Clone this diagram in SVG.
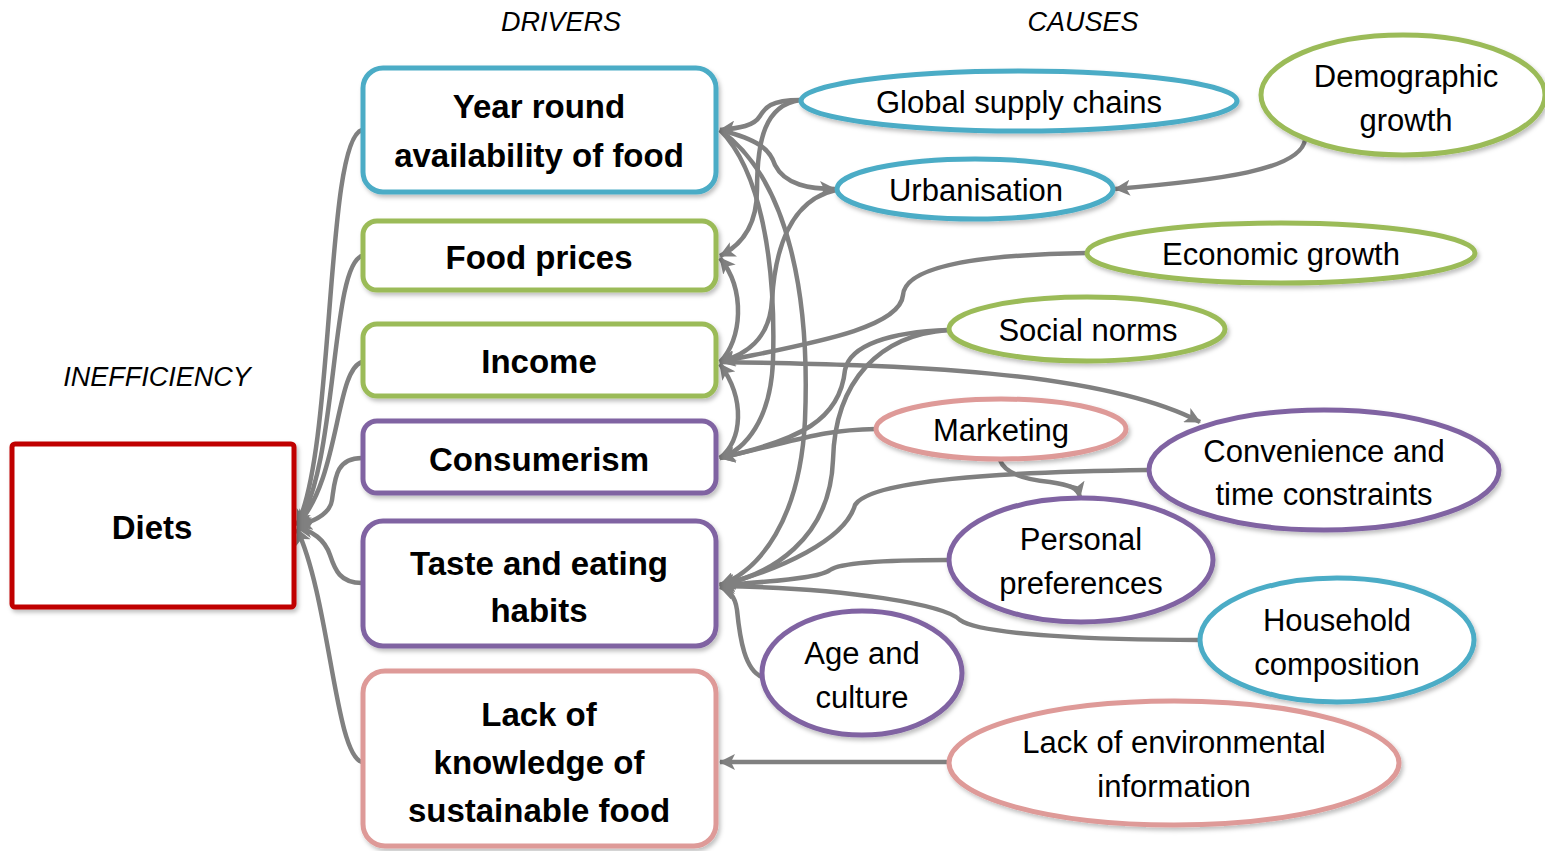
<svg xmlns="http://www.w3.org/2000/svg" width="1545" height="851" viewBox="0 0 1545 851">
<style>
.box{fill:#fff;stroke-width:5}
.ell{fill:#fff;stroke-width:5}
.blue{stroke:#4BACC6}
.green{stroke:#9BBB59}
.purple{stroke:#8064A2}
.pink{stroke:#DE9A98}
.red{stroke:#C00000}
.drv{font-family:"Liberation Sans",Arial,sans-serif;font-weight:bold;font-size:33px;fill:#000;text-anchor:middle}
.cau{font-family:"Liberation Sans",Arial,sans-serif;font-size:31px;fill:#000;text-anchor:middle}
.hdr{font-family:"Liberation Sans",Arial,sans-serif;font-style:italic;font-size:27px;fill:#000;text-anchor:middle}
.con path{fill:none;stroke:#808080;stroke-width:4.5;marker-end:url(#ah)}
</style>
<defs>
<marker id="ah" markerUnits="userSpaceOnUse" markerWidth="18" markerHeight="16" refX="15" refY="8" orient="auto">
<path d="M0,0 L16,8 L0,16 L4,8 Z" fill="#808080"/>
</marker>
<filter id="sh" x="-10%" y="-10%" width="130%" height="130%">
<feDropShadow dx="2" dy="3" stdDeviation="2" flood-color="#000" flood-opacity="0.25"/>
</filter>
</defs>
<rect width="1545" height="851" fill="#fff"/>
<text class="hdr" x="561" y="31">DRIVERS</text>
<text class="hdr" x="1083" y="31">CAUSES</text>
<text class="hdr" x="157" y="386">INEFFICIENCY</text>

<g class="con">
<path d="M362,130 C325,140 335,450 297,525"/>
<path d="M362,256 C330,265 338,470 297,525"/>
<path d="M362,362 C335,370 340,480 297,525"/>
<path d="M362,458 C335,458 335,480 332,500 C330,515 312,522 297,526"/>
<path d="M362,583 C340,583 335,570 330,555 C325,540 312,530 297,528"/>
<path d="M362,762 C335,755 330,600 297,529"/>

<path d="M800,100 C770,100 765,108 760,116 C754,126 740,128 720,130"/>
<path d="M800,100 C765,105 757,140 757,190 C757,225 742,245 720,256"/>
<path d="M720,130 C760,140 770,150 775,165 C785,185 810,189 835,189"/>
<path d="M836,190 C790,200 775,250 772,300 C770,340 745,355 720,362"/>
<path d="M720,130 C760,170 776,260 773,360 C771,420 745,450 720,458"/>
<path d="M720,130 C790,180 810,300 805,420 C800,520 760,570 720,585"/>
<path d="M720,362 C742,340 746,290 720,258"/>
<path d="M720,458 C742,440 746,400 720,364"/>
<path d="M1087,253 C960,255 905,270 903,295 C900,330 800,345 720,362"/>
<path d="M720,362 C900,365 1100,370 1200,422"/>
<path d="M948,330 C890,332 850,345 845,370 C840,420 800,440 720,458"/>
<path d="M948,330 C880,335 835,380 833,460 C830,540 770,575 720,585"/>
<path d="M876,429 C820,430 800,440 720,458"/>
<path d="M1000,460 C1005,475 1030,480 1050,482 C1070,485 1078,488 1080,497"/>
<path d="M1148,470 C1000,472 870,480 855,505 C845,540 780,570 720,585"/>
<path d="M948,560 C880,560 840,563 830,570 C820,578 770,582 720,585"/>
<path d="M1200,640 C1100,640 980,635 960,620 C945,605 850,588 720,586"/>
<path d="M762,677 C745,670 740,640 737,610 C735,595 728,590 720,587"/>
<path d="M948,762 L720,762"/>
<path d="M1305,140 C1300,170 1220,180 1115,189"/>
</g>

<g id="diets"><rect class="box red" x="12" y="444" width="282" height="163" rx="3" filter="url(#sh)"/><text class="drv" x="152" y="539">Diets</text></g>

<g id="yearround"><rect class="box blue" x="363" y="68" width="353" height="124" rx="20" filter="url(#sh)"/><text class="drv" x="539" y="118">Year round</text><text class="drv" x="539" y="167">availability of food</text></g>
<g id="foodprices"><rect class="box green" x="363" y="221" width="353" height="69" rx="14" filter="url(#sh)"/><text class="drv" x="539" y="269">Food prices</text></g>
<g id="income"><rect class="box green" x="363" y="324" width="353" height="72" rx="14" filter="url(#sh)"/><text class="drv" x="539" y="373">Income</text></g>
<g id="consumerism"><rect class="box purple" x="363" y="421" width="353" height="72" rx="14" filter="url(#sh)"/><text class="drv" x="539" y="471">Consumerism</text></g>
<g id="taste"><rect class="box purple" x="363" y="521" width="353" height="125" rx="20" filter="url(#sh)"/><text class="drv" x="539" y="575">Taste and eating</text><text class="drv" x="539" y="622">habits</text></g>
<g id="lack"><rect class="box pink" x="363" y="671" width="353" height="175" rx="22" filter="url(#sh)"/><text class="drv" x="539" y="726">Lack of</text><text class="drv" x="539" y="774">knowledge of</text><text class="drv" x="539" y="822">sustainable food</text></g>

<g id="global"><ellipse class="ell blue" cx="1019" cy="101" rx="218" ry="30" filter="url(#sh)"/><text class="cau" x="1019" y="113">Global supply chains</text></g>
<g id="demographic"><ellipse class="ell green" cx="1403" cy="95" rx="142" ry="60" filter="url(#sh)"/><text class="cau" x="1406" y="87">Demographic</text><text class="cau" x="1406" y="131">growth</text></g>
<g id="urbanisation"><ellipse class="ell blue" cx="975" cy="189" rx="138" ry="30" filter="url(#sh)"/><text class="cau" x="976" y="201">Urbanisation</text></g>
<g id="economic"><ellipse class="ell green" cx="1281" cy="253" rx="194" ry="30" filter="url(#sh)"/><text class="cau" x="1281" y="265">Economic growth</text></g>
<g id="social"><ellipse class="ell green" cx="1087" cy="329" rx="138" ry="32" filter="url(#sh)"/><text class="cau" x="1088" y="341">Social norms</text></g>
<g id="marketing"><ellipse class="ell pink" cx="1001" cy="429" rx="125" ry="30" filter="url(#sh)"/><text class="cau" x="1001" y="441">Marketing</text></g>
<g id="convenience"><ellipse class="ell purple" cx="1324" cy="470" rx="175" ry="60" filter="url(#sh)"/><text class="cau" x="1324" y="462">Convenience and</text><text class="cau" x="1324" y="505">time constraints</text></g>
<g id="personal"><ellipse class="ell purple" cx="1081" cy="560" rx="132" ry="62" filter="url(#sh)"/><text class="cau" x="1081" y="550">Personal</text><text class="cau" x="1081" y="594">preferences</text></g>
<g id="household"><ellipse class="ell blue" cx="1337" cy="640" rx="137" ry="62" filter="url(#sh)"/><text class="cau" x="1337" y="631">Household</text><text class="cau" x="1337" y="675">composition</text></g>
<g id="age"><ellipse class="ell purple" cx="862" cy="673" rx="100" ry="62" filter="url(#sh)"/><text class="cau" x="862" y="664">Age and</text><text class="cau" x="862" y="708">culture</text></g>
<g id="lackenv"><ellipse class="ell pink" cx="1174" cy="763" rx="225" ry="62" filter="url(#sh)"/><text class="cau" x="1174" y="753">Lack of environmental</text><text class="cau" x="1174" y="797">information</text></g>
</svg>
